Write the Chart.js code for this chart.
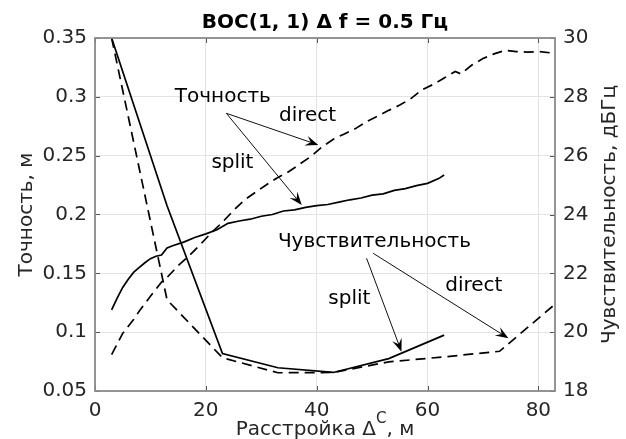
<!DOCTYPE html>
<html>
<head>
<meta charset="utf-8">
<script src="https://cdn.jsdelivr.net/npm/chart.js@4.4.0/dist/chart.umd.min.js"></script>
<style>
  html, body { margin: 0; padding: 0; background: #fff; }
</style>
</head>
<body>
<canvas id="bocChart" width="626" height="439"></canvas>
<script>
// Точность (м), левая ось
const accSplitX = [3, 4, 5, 6, 7, 8, 9, 10, 11, 12, 13, 14, 16, 18, 20, 22, 24, 26, 28, 30, 32, 34, 36, 38, 40, 42, 44, 46, 48, 50, 52, 54, 56, 58, 60, 62, 63];
const accSplit = [0.119, 0.129, 0.138, 0.145, 0.151, 0.155, 0.159, 0.1625, 0.1645, 0.1655, 0.1715, 0.1735, 0.1765, 0.1805, 0.1835, 0.187, 0.1925, 0.1945, 0.196, 0.1985, 0.2, 0.203, 0.204, 0.206, 0.2075, 0.2085, 0.2105, 0.2125, 0.214, 0.2165, 0.2175, 0.2205, 0.222, 0.2245, 0.2265, 0.2305, 0.2335];
const accDirectX = [3, 5, 7, 8, 10, 12, 13, 15, 17, 19, 21, 23, 25, 27, 29, 31, 33, 35, 37, 39, 41, 43, 45, 47, 49, 51, 53, 55, 57, 59, 61, 63, 65, 66, 68, 70, 72, 74, 76, 78, 80, 82, 83];
const accDirect = [0.081, 0.099, 0.111, 0.118, 0.1305, 0.1425, 0.1465, 0.1565, 0.165, 0.1745, 0.1845, 0.1935, 0.2035, 0.2125, 0.219, 0.2255, 0.2315, 0.2365, 0.243, 0.2495, 0.2575, 0.264, 0.2685, 0.273, 0.279, 0.2835, 0.2885, 0.293, 0.2985, 0.306, 0.3105, 0.316, 0.3215, 0.3195, 0.327, 0.3325, 0.3365, 0.3395, 0.3385, 0.338, 0.3385, 0.3375, 0.3355];

// Чувствительность (дБГц), правая ось
const sensX = [3, 13, 23, 33, 43, 53, 63, 73, 83];
const sensSplit = [30, 24.3, 19.27, 18.79, 18.63, 19.1, 19.9];
const sensDirect = [30, 21.1, 19.13, 18.62, 18.63, 18.99, 19.16, 19.35, 20.95];

// деления осей
const xTicks = [0, 20, 40, 60, 80];
const leftTicks = [0.05, 0.1, 0.15, 0.2, 0.25, 0.3, 0.35];
const rightTicks = [18, 20, 22, 24, 26, 28, 30];

const FONT = 'DejaVu Sans';
const TEXT = '#262626';

// подписи и стрелки, в координатах x / левой оси
const noteLabels = [
  { text: 'Точность', x: 14.4, y: 0.3, },
  { text: 'direct', x: 33.2, y: 0.2837 },
  { text: 'split', x: 21.0, y: 0.2438 },
  { text: 'Чувствительность', x: 33.0, y: 0.1766 },
  { text: 'split', x: 42.1, y: 0.1282 },
  { text: 'direct', x: 63.2, y: 0.1395 }
];
const noteArrows = [
  { from: [23.7, 0.286], to: [40.3, 0.2591] },
  { from: [23.7, 0.286], to: [37.3, 0.2081] },
  { from: [49.0, 0.1628], to: [55.3, 0.0834] },
  { from: [50.2, 0.167], to: [74.6, 0.0948] }
];

const toPoints = (xs, ys) => ys.map((y, i) => ({ x: xs[i], y: y }));

function drawArrow(ctx, x0, y0, x1, y1) {
  const ang = Math.atan2(y1 - y0, x1 - x0);
  const c = Math.cos(ang), s = Math.sin(ang);
  const len = 13, half = 5, back = 8;
  ctx.beginPath();
  ctx.moveTo(x0, y0);
  ctx.lineTo(x1 - c * back, y1 - s * back);
  ctx.stroke();
  const bx = x1 - c * len, by = y1 - s * len;
  ctx.beginPath();
  ctx.moveTo(x1, y1);
  ctx.lineTo(bx - s * half, by + c * half);
  ctx.lineTo(x1 - c * back, y1 - s * back);
  ctx.lineTo(bx + s * half, by - c * half);
  ctx.closePath();
  ctx.fill();
}

const axesFrame = {
  id: 'axesFrame',
  afterDatasetsDraw(chart) {
    const { ctx, chartArea: a, scales } = chart;
    ctx.save();
    ctx.strokeStyle = '#555';
    ctx.lineWidth = 1;
    ctx.beginPath();
    xTicks.forEach(v => {
      const px = Math.round(scales.x.getPixelForValue(v)) + 0.5;
      ctx.moveTo(px, a.bottom); ctx.lineTo(px, a.bottom - 5);
      ctx.moveTo(px, a.top); ctx.lineTo(px, a.top + 5);
    });
    leftTicks.forEach(v => {
      const py = Math.round(scales.y.getPixelForValue(v)) + 0.5;
      ctx.moveTo(a.left, py); ctx.lineTo(a.left + 5, py);
    });
    rightTicks.forEach(v => {
      const py = Math.round(scales.y1.getPixelForValue(v)) + 0.5;
      ctx.moveTo(a.right, py); ctx.lineTo(a.right - 5, py);
    });
    ctx.stroke();
    ctx.strokeStyle = '#8a8a8a';
    ctx.lineWidth = 1.8;
    ctx.strokeRect(a.left, a.top, a.right - a.left, a.bottom - a.top);
    ctx.restore();
  }
};

const axisTitles = {
  id: 'axisTitles',
  afterDraw(chart) {
    const { ctx, chartArea: a } = chart;
    const cx = (a.left + a.right) / 2;
    const cy = (a.top + a.bottom) / 2;
    ctx.save();
    ctx.fillStyle = '#000';
    ctx.textAlign = 'center';
    ctx.textBaseline = 'alphabetic';
    ctx.font = 'bold 20px "' + FONT + '"';
    ctx.fillText('BOC(1, 1) \u0394 f = 0.5 \u0413\u0446', cx, 28);

    ctx.fillStyle = TEXT;
    ctx.font = '20px "' + FONT + '"';
    // левая ось
    ctx.save();
    ctx.translate(32, cy);
    ctx.rotate(-Math.PI / 2);
    ctx.fillText('Точность, м', 0, 0);
    ctx.restore();
    // правая ось
    ctx.save();
    ctx.translate(615, cy);
    ctx.rotate(-Math.PI / 2);
    ctx.fillText('Чувствительность, дБГц', 0, 0);
    ctx.restore();

    // ось x с верхним индексом
    const big = '20px "' + FONT + '"', small = '15px "' + FONT + '"';
    const p1 = 'Расстройка \u0394', p2 = 'C', p3 = ', м';
    ctx.font = big; const w1 = ctx.measureText(p1).width; const w3 = ctx.measureText(p3).width;
    ctx.font = small; const w2 = ctx.measureText(p2).width;
    let x = cx - (w1 + w2 + w3) / 2;
    ctx.textAlign = 'left';
    ctx.font = big; ctx.fillText(p1, x, 435); x += w1;
    ctx.font = small; ctx.fillText(p2, x, 423); x += w2;
    ctx.font = big; ctx.fillText(p3, x, 435);
    ctx.restore();
  }
};

const notes = {
  id: 'notes',
  afterDatasetsDraw(chart) {
    const { ctx, scales } = chart;
    const X = v => scales.x.getPixelForValue(v);
    const Y = v => scales.y.getPixelForValue(v);
    ctx.save();
    ctx.fillStyle = '#000';
    ctx.font = '20px "' + FONT + '"';
    ctx.textAlign = 'left';
    ctx.textBaseline = 'middle';
    noteLabels.forEach(n => ctx.fillText(n.text, X(n.x), Y(n.y)));
    ctx.strokeStyle = '#111';
    ctx.lineWidth = 1;
    noteArrows.forEach(ar => drawArrow(ctx, X(ar.from[0]), Y(ar.from[1]), X(ar.to[0]), Y(ar.to[1])));
    ctx.restore();
  }
};

const lineStyle = { borderColor: '#000', borderWidth: 1.7, pointRadius: 0, fill: false, tension: 0 };
const dashed = [10, 6];

const ctx = document.getElementById('bocChart').getContext('2d');
const bocChart = new Chart(ctx, {
  type: 'line',
  data: {
    datasets: [
      Object.assign({ label: 'Точность split', data: toPoints(accSplitX, accSplit), yAxisID: 'y' }, lineStyle),
      Object.assign({ label: 'Точность direct', data: toPoints(accDirectX, accDirect), yAxisID: 'y', borderDash: dashed }, lineStyle),
      Object.assign({ label: 'Чувствительность split', data: toPoints(sensX, sensSplit), yAxisID: 'y1' }, lineStyle),
      Object.assign({ label: 'Чувствительность direct', data: toPoints(sensX, sensDirect), yAxisID: 'y1', borderDash: dashed }, lineStyle)
    ]
  },
  options: {
    responsive: false,
    animation: false,
    layout: { padding: { top: 38, left: 0, right: 0, bottom: 0 } },
    plugins: {
      legend: { display: false },
      tooltip: { enabled: false }
    },
    scales: {
      x: {
        type: 'linear',
        min: 0,
        max: 83,
        afterBuildTicks: s => { s.ticks = xTicks.map(v => ({ value: v })); },
        afterFit: s => { s.height = 48; },
        grid: { color: '#e3e3e3', drawTicks: false },
        border: { display: false },
        ticks: { color: TEXT, font: { family: FONT, size: 20 }, padding: 8, maxRotation: 0 }
      },
      y: {
        position: 'left',
        min: 0.05,
        max: 0.35,
        afterBuildTicks: s => { s.ticks = leftTicks.map(v => ({ value: v })); },
        afterFit: s => { s.width = 95; },
        grid: { color: '#e3e3e3', drawTicks: false },
        border: { display: false },
        ticks: { color: TEXT, font: { family: FONT, size: 20 }, padding: 8, callback: v => String(+v.toFixed(2)) }
      },
      y1: {
        position: 'right',
        min: 18,
        max: 30,
        afterBuildTicks: s => { s.ticks = rightTicks.map(v => ({ value: v })); },
        afterFit: s => { s.width = 71; },
        grid: { display: false, drawTicks: false },
        border: { display: false },
        ticks: { color: TEXT, font: { family: FONT, size: 20 }, padding: 8 }
      }
    }
  },
  plugins: [axesFrame, notes, axisTitles]
});
</script>
</body>
</html>
